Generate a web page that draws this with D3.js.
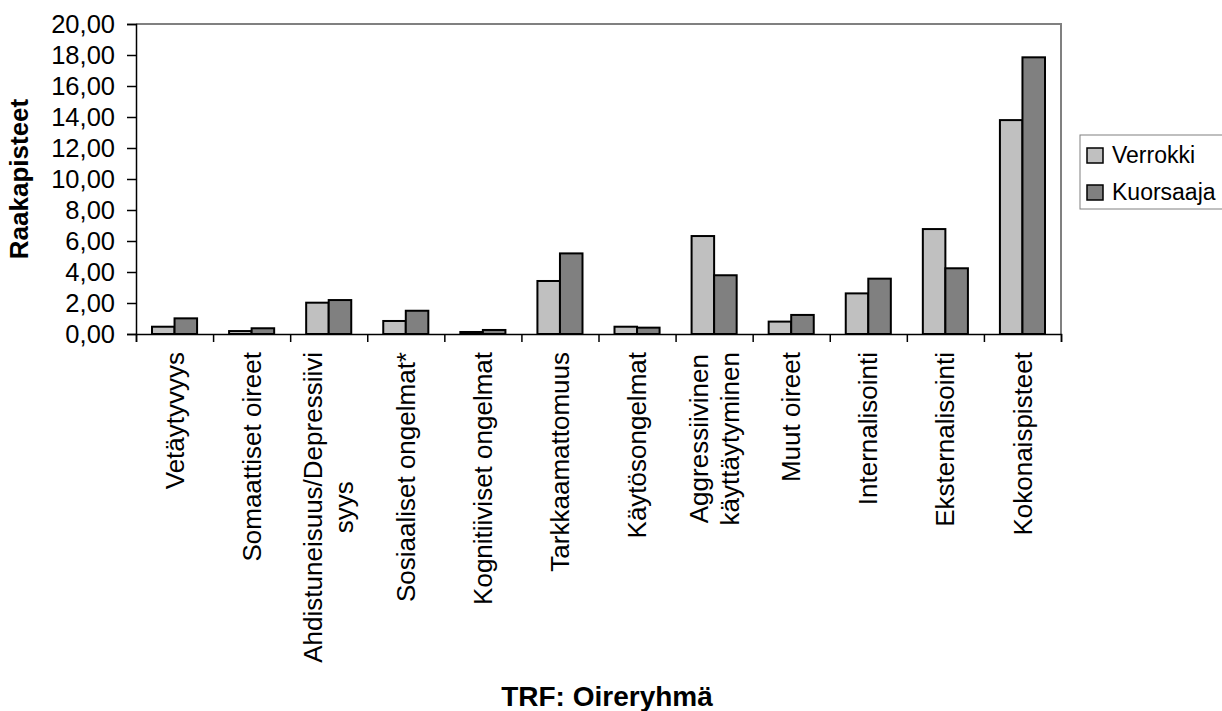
<!DOCTYPE html>
<html>
<head>
<meta charset="utf-8">
<script src="https://cdn.jsdelivr.net/npm/d3@7"></script>
<style>
  body { margin: 0; background: #fff; }
  text { font-family: "Liberation Sans", Arial, sans-serif; fill: #000; }
</style>
</head>
<body>
<div id="chart"></div>
<script>
const categories = [
    "Vetäytyvyys", "Somaattiset oireet", "Ahdistuneisuus/Depressiivi\nsyys",
    "Sosiaaliset ongelmat*", "Kognitiiviset ongelmat", "Tarkkaamattomuus",
    "Käytösongelmat", "Aggressiivinen\nkäyttäytyminen", "Muut oireet",
    "Internalisointi", "Eksternalisointi", "Kokonaispisteet"
];
const seriesNames = ["Verrokki", "Kuorsaaja"];
const verrokki = [0.47, 0.19, 2.02, 0.84, 0.13, 3.42, 0.47, 6.32, 0.80, 2.62, 6.77, 13.80];
const kuorsaaja = [1.01, 0.37, 2.19, 1.50, 0.26, 5.20, 0.41, 3.79, 1.23, 3.57, 4.24, 17.85];
const yTicks = [0, 2, 4, 6, 8, 10, 12, 14, 16, 18, 20];
const colors = ["#c0c0c0", "#808080"];

const width = 1222;
const height = 711;
const margin = { top: 24, right: 161, bottom: 377, left: 136 };

const svg = d3.select("#chart").append("svg")
    .attr("width", width)
    .attr("height", height);

const x = d3.scaleBand()
    .domain(categories)
    .range([margin.left, width - margin.right]);

const xInner = d3.scaleBand()
    .domain(seriesNames)
    .range([0, x.bandwidth()])
    .paddingOuter(0.71);

const y = d3.scaleLinear()
    .domain([0, 20])
    .range([height - margin.bottom, margin.top]);

const values = { Verrokki: verrokki, Kuorsaaja: kuorsaaja };

// bars
const groups = svg.append("g").selectAll("g")
    .data(categories)
    .join("g")
    .attr("transform", (d) => `translate(${x(d)},0)`);

groups.selectAll("rect")
    .data((d, i) => seriesNames.map((s) => ({ s, v: values[s][i] })))
    .join("rect")
    .attr("x", (d) => xInner(d.s))
    .attr("width", xInner.bandwidth())
    .attr("y", (d) => y(d.v))
    .attr("height", (d) => y(0) - y(d.v))
    .attr("fill", (d) => colors[seriesNames.indexOf(d.s)])
    .attr("stroke", "#000")
    .attr("stroke-width", 2);

// plot frame top and right (gray)
const [x0, x1] = x.range();
const [yb, yt] = y.range();
svg.append("path")
    .attr("d", `M${x0},${yt}H${x1}V${yb}`)
    .attr("fill", "none")
    .attr("stroke", "#808080")
    .attr("stroke-width", 2);

// y axis
const yAxis = svg.append("g")
    .attr("transform", `translate(${margin.left},0)`)
    .call(d3.axisLeft(y)
        .tickValues(yTicks)
        .tickSize(9)
        .tickPadding(12)
        .tickFormat((d) => d3.format(".2f")(d).replace(".", ",")));
yAxis.selectAll("text").style("font-size", "25.5px");
yAxis.selectAll("line, path").attr("stroke", "#000").attr("stroke-width", 1.5);

// x axis with boundary ticks
const xb = d3.scaleLinear().domain([0, categories.length]).range(x.range());
const xAxis = svg.append("g")
    .attr("transform", `translate(0,${y(0)})`)
    .call(d3.axisBottom(xb).ticks(categories.length).tickSize(8).tickFormat(""));
xAxis.selectAll("line, path").attr("stroke", "#000").attr("stroke-width", 1.5);

// category labels
const labelAxis = svg.append("g")
    .attr("transform", `translate(0,${y(0)})`)
    .call(d3.axisBottom(x).tickSize(0).tickFormat(""));
labelAxis.select(".domain").remove();

const lineGap = 31;
labelAxis.selectAll(".tick").each(function (c) {
    const lines = c.split("\n");
    const g = d3.select(this);
    const texts = g.selectAll("text.lbl")
        .data(lines)
        .join("text")
        .attr("class", "lbl")
        .attr("transform", "rotate(-90)")
        .attr("text-anchor", "middle")
        .style("font-size", "26px")
        .attr("dy", "0.35em")
        .text((d) => d);
    let maxLen = 0;
    texts.each(function () { maxLen = Math.max(maxLen, this.getComputedTextLength()); });
    texts
        .attr("x", -(18 + maxLen / 2))
        .attr("y", (d, i) => (i - (lines.length - 1) / 2) * lineGap);
});

// axis titles
svg.append("text")
    .attr("transform", `translate(28,${(yt + yb) / 2}) rotate(-90)`)
    .attr("text-anchor", "middle")
    .style("font-size", "26px")
    .style("font-weight", "bold")
    .text("Raakapisteet");

svg.append("text")
    .attr("x", 607)
    .attr("y", 706)
    .attr("text-anchor", "middle")
    .style("font-size", "28px")
    .style("font-weight", "bold")
    .text("TRF: Oireryhmä");

// legend
const legend = svg.append("g").attr("transform", "translate(1080,135)");
legend.append("rect")
    .attr("width", 160)
    .attr("height", 74)
    .attr("fill", "#fff")
    .attr("stroke", "#808080")
    .attr("stroke-width", 1);

const items = legend.selectAll("g.item")
    .data(seriesNames)
    .join("g")
    .attr("class", "item")
    .attr("transform", (d, i) => `translate(7,${13 + i * 37})`);
items.append("rect")
    .attr("width", 16)
    .attr("height", 15)
    .attr("fill", (d, i) => colors[i])
    .attr("stroke", "#000")
    .attr("stroke-width", 1.5);
items.append("text")
    .attr("x", 25)
    .attr("y", 15)
    .style("font-size", "23px")
    .text((d) => d);
</script>
</body>
</html>
